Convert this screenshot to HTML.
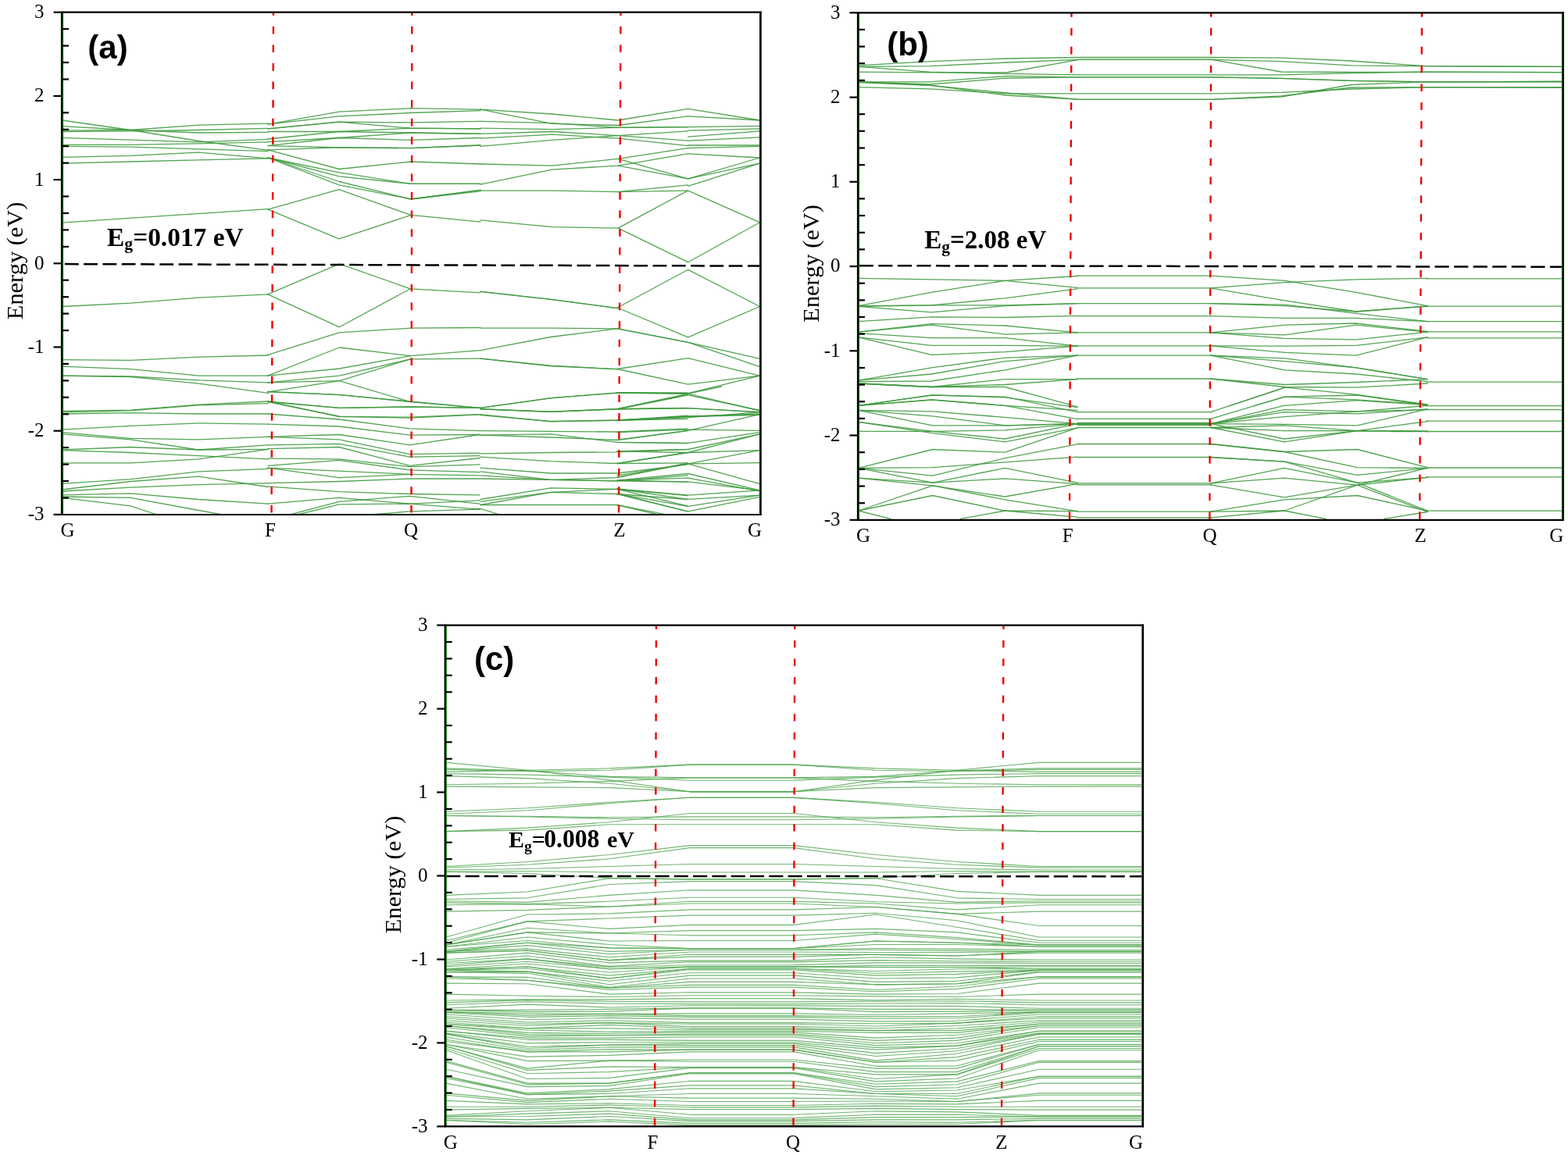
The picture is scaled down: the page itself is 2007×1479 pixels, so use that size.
<!DOCTYPE html>
<html><head><meta charset="utf-8"><style>
body{margin:0;background:#fff}
svg{display:block}
.b{fill:none;stroke:#3f9a3f;stroke-width:1.3;stroke-opacity:.9;stroke-linejoin:round;stroke-linecap:round}
.bc{fill:none;stroke:#4ca34c;stroke-width:1.15;stroke-opacity:.8;stroke-linejoin:round;stroke-linecap:round}
.r{stroke:#ee0000;stroke-width:2.4;stroke-dasharray:9.8 13.78}
.f{stroke:#000;stroke-width:2.5;stroke-dasharray:17.8 6.48}
.g{stroke:#138a13;stroke-width:1.2}
.k{stroke:#000;stroke-width:2.2}
.t{font-family:"Liberation Serif",serif;font-size:25px;fill:#000}
.t2{font-family:"Liberation Serif",serif;font-size:30.4px;fill:#000}
.pl{font-family:"Liberation Sans",sans-serif;font-weight:bold;font-size:42px;fill:#000}
.eg{font-family:"Liberation Serif",serif;font-weight:bold;font-size:34px;fill:#000}
.sub{font-size:22px}
</style></head>
<body><svg width="2007" height="1479" viewBox="0 0 2007 1479">
<rect width="2007" height="1479" fill="#fff"/>
<clipPath id="ca"><rect x="79" y="15.7" width="894.7" height="643.3"/></clipPath>
<g clip-path="url(#ca)">
<polyline class="b" points="79.2,154.0 167.1,166.5 254.3,180.5 343.0,192.3"/>
<polyline class="b" points="79.2,161.6 167.1,166.5 254.3,170.0 343.0,169.3"/>
<polyline class="b" points="79.2,167.2 167.1,166.5 254.3,160.2 343.0,158.1"/>
<polyline class="b" points="79.2,168.6 167.1,167.9 254.3,166.5 343.0,164.4"/>
<polyline class="b" points="79.2,176.3 167.1,179.1 254.3,181.9 343.0,178.4"/>
<polyline class="b" points="79.2,185.3 167.1,185.3 254.3,183.9 343.0,181.9"/>
<polyline class="b" points="79.2,187.4 167.1,188.1 254.3,190.9 343.0,193.7"/>
<polyline class="b" points="79.2,201.4 167.1,199.3 254.3,195.1 343.0,202.8"/>
<polyline class="b" points="79.2,209.1 167.1,207.0 254.3,204.9 343.0,202.8"/>
<polyline class="b" points="79.2,285.1 343.0,267.7"/>
<polyline class="b" points="343.0,159.1 434.0,143.1 526.0,138.7 615.0,140.2"/>
<polyline class="b" points="343.0,159.1 434.0,148.9 526.0,144.5 615.0,141.6"/>
<polyline class="b" points="343.0,164.9 434.0,156.2 526.0,156.9 615.0,155.4"/>
<polyline class="b" points="343.0,164.9 434.0,156.2 526.0,164.2 615.0,164.9"/>
<polyline class="b" points="343.0,168.5 434.0,168.5 526.0,164.2 615.0,164.9"/>
<polyline class="b" points="343.0,178.0 434.0,168.5 526.0,170.0 615.0,171.4"/>
<polyline class="b" points="343.0,181.6 434.0,176.5 526.0,170.0 615.0,171.4"/>
<polyline class="b" points="343.0,186.7 434.0,176.5 526.0,179.4 615.0,176.5"/>
<polyline class="b" points="343.0,186.7 434.0,188.9 526.0,189.6 615.0,186.0"/>
<polyline class="b" points="343.0,191.8 434.0,188.9 526.0,189.6 615.0,186.0"/>
<polyline class="b" points="343.0,191.8 434.0,216.5 526.0,207.0 615.0,210.0"/>
<polyline class="b" points="343.0,202.0 434.0,220.9 526.0,235.4 615.0,235.4"/>
<polyline class="b" points="343.0,202.0 434.0,225.9 526.0,235.4 615.0,235.4"/>
<polyline class="b" points="343.0,202.0 434.0,232.5 526.0,255.0 615.0,243.4"/>
<polyline class="b" points="343.0,202.0 434.0,236.8 526.0,255.0 615.0,243.4"/>
<polyline class="b" points="343.0,268.1 434.0,242.7 526.0,275.4"/>
<polyline class="b" points="343.0,268.1 434.0,305.9 526.0,275.4 615.0,284.1"/>
<polyline class="b" points="526.0,255.0 615.0,244.8"/>
<polyline class="b" points="615.0,140.2 706.8,146.0 791.1,154.0 880.5,139.4"/>
<polyline class="b" points="615.0,140.2 706.8,158.3 791.1,160.5 880.5,148.9"/>
<polyline class="b" points="615.0,155.4 706.8,157.6 791.1,163.4 880.5,162.7"/>
<polyline class="b" points="615.0,164.2 706.8,165.6 791.1,163.4 880.5,162.7"/>
<polyline class="b" points="615.0,171.4 706.8,168.5 791.1,173.6 880.5,180.2"/>
<polyline class="b" points="615.0,177.2 706.8,172.2 791.1,177.2 880.5,186.7"/>
<polyline class="b" points="615.0,187.4 706.8,179.4 791.1,173.6 880.5,167.8"/>
<polyline class="b" points="615.0,210.0 706.8,212.1 791.1,203.4 880.5,189.6"/>
<polyline class="b" points="615.0,236.1 706.8,217.2 791.1,212.1 880.5,196.9"/>
<polyline class="b" points="791.1,212.1 880.5,228.9"/>
<polyline class="b" points="791.1,203.4 880.5,228.9"/>
<polyline class="b" points="615.0,244.1 706.8,244.1 791.1,245.6 880.5,236.8"/>
<polyline class="b" points="791.1,245.6 880.5,244.1"/>
<polyline class="b" points="615.0,281.9 706.8,290.6 791.1,292.1 880.5,244.1"/>
<polyline class="b" points="791.1,292.1 880.5,335.7"/>
<polyline class="b" points="880.7,139.4 972.6,154.0"/>
<polyline class="b" points="880.7,148.9 972.6,154.0"/>
<polyline class="b" points="880.7,162.7 972.6,161.3"/>
<polyline class="b" points="880.7,167.1 972.6,164.9"/>
<polyline class="b" points="880.7,175.1 972.6,167.8"/>
<polyline class="b" points="880.7,180.2 972.6,175.8"/>
<polyline class="b" points="880.7,186.0 972.6,186.0"/>
<polyline class="b" points="880.7,189.6 972.6,187.4"/>
<polyline class="b" points="880.7,196.9 972.6,202.0"/>
<polyline class="b" points="880.7,228.9 972.6,202.0"/>
<polyline class="b" points="880.7,228.9 972.6,209.2"/>
<polyline class="b" points="880.7,238.3 972.6,209.2"/>
<polyline class="b" points="880.7,244.1 972.6,284.8"/>
<polyline class="b" points="880.7,335.7 972.6,284.8"/>
<polyline class="b" points="79.0,392.5 167.3,388.2 254.6,381.1 343.4,376.9"/>
<polyline class="b" points="79.0,460.7 167.3,461.4 254.6,457.1 343.4,455.0"/>
<polyline class="b" points="79.0,469.2 167.3,472.7 254.6,481.2 343.4,481.2"/>
<polyline class="b" points="79.0,481.2 167.3,482.0 254.6,486.9 343.4,489.8"/>
<polyline class="b" points="79.0,481.2 167.3,482.7 254.6,491.2 343.4,503.3"/>
<polyline class="b" points="79.2,526.5 167.1,525.1 254.3,518.1 343.0,514.0"/>
<polyline class="b" points="79.2,527.9 167.1,525.8 254.3,518.8 343.0,516.7"/>
<polyline class="b" points="79.2,530.0 167.1,528.6 254.3,530.0 343.0,530.0"/>
<polyline class="b" points="79.2,550.2 167.1,545.3 254.3,541.9 343.0,543.2"/>
<polyline class="b" points="79.2,553.7 167.1,561.4 254.3,562.8 343.0,559.3"/>
<polyline class="b" points="79.2,555.8 167.1,562.8 254.3,576.0 343.0,569.8"/>
<polyline class="b" points="79.2,576.0 167.1,572.5 254.3,576.0 343.0,575.3"/>
<polyline class="b" points="79.2,576.7 167.1,579.5 254.3,583.7 343.0,587.9"/>
<polyline class="b" points="79.2,592.8 167.1,592.8 254.3,587.9 343.0,575.3"/>
<polyline class="b" points="79.2,619.3 167.1,613.7 254.3,603.9 343.0,600.4"/>
<polyline class="b" points="79.2,627.0 167.1,616.5 254.3,610.2 343.0,623.5"/>
<polyline class="b" points="79.2,629.0 167.1,624.2 254.3,620.7 343.0,618.6"/>
<polyline class="b" points="79.2,633.9 167.1,631.8 254.3,639.5 343.0,645.1"/>
<polyline class="b" points="79.2,637.4 167.1,647.9 200.6,659.0"/>
<polyline class="b" points="79.2,636.0 167.1,637.4 254.3,653.5 284.3,659.0"/>
<polyline class="b" points="342.8,376.9 434.4,337.8 525.3,369.8 614.7,374.8"/>
<polyline class="b" points="342.8,376.9 434.4,418.8 525.3,369.8"/>
<polyline class="b" points="342.8,454.3 434.4,425.9 525.3,420.2 614.7,419.5"/>
<polyline class="b" points="342.8,481.2 434.4,445.0 525.3,455.7 614.7,448.6"/>
<polyline class="b" points="342.8,481.2 434.4,472.0 525.3,455.7"/>
<polyline class="b" points="342.8,489.8 434.4,481.2 525.3,459.9 614.7,459.2"/>
<polyline class="b" points="342.8,489.8 434.4,487.6 525.3,459.9"/>
<polyline class="b" points="342.8,501.8 434.4,487.6 525.3,514.6 614.7,522.4"/>
<polyline class="b" points="342.8,501.8 434.4,505.4 525.3,514.6"/>
<polyline class="b" points="342.8,514.6 434.4,522.4 525.3,521.0 614.7,522.4"/>
<polyline class="b" points="342.8,514.6 434.4,533.1 525.3,535.2 614.7,530.9"/>
<polyline class="b" points="342.7,501.4 434.1,505.6 524.7,514.0 614.0,522.3"/>
<polyline class="b" points="342.7,514.0 434.1,522.3 524.7,520.9 614.0,522.3"/>
<polyline class="b" points="342.7,514.0 434.1,533.5 524.7,534.2 614.0,530.7"/>
<polyline class="b" points="342.7,530.0 434.1,537.0 524.7,548.8 614.0,551.6"/>
<polyline class="b" points="342.7,543.2 434.1,546.0 524.7,557.2 614.0,556.5"/>
<polyline class="b" points="342.7,559.3 434.1,556.5 524.7,569.8 614.0,556.5"/>
<polyline class="b" points="342.7,559.3 434.1,562.8 524.7,581.6 614.0,580.2"/>
<polyline class="b" points="342.7,569.8 434.1,568.4 524.7,585.1 614.0,583.7"/>
<polyline class="b" points="342.7,574.6 434.1,572.5 524.7,596.3 614.0,586.5"/>
<polyline class="b" points="342.7,587.2 434.1,587.9 524.7,597.7 614.0,594.9"/>
<polyline class="b" points="342.7,596.3 434.1,589.3 524.7,601.8 614.0,604.6"/>
<polyline class="b" points="342.7,599.1 434.1,603.2 524.7,607.4 614.0,608.8"/>
<polyline class="b" points="342.7,599.1 434.1,611.6 524.7,607.4"/>
<polyline class="b" points="342.7,618.6 434.1,616.5 524.7,613.0 614.0,613.0"/>
<polyline class="b" points="342.7,622.8 434.1,629.7 524.7,632.5 614.0,633.9"/>
<polyline class="b" points="342.7,645.1 434.1,637.4 524.7,645.1 614.0,640.9"/>
<polyline class="b" points="371.3,659.0 434.1,642.3 524.7,635.3 614.0,645.1"/>
<polyline class="b" points="381.0,659.0 434.1,645.8 524.7,645.1 614.0,652.1"/>
<polyline class="b" points="474.5,659.0 524.7,654.9 614.0,652.1"/>
<polyline class="b" points="614.9,373.3 705.0,383.3 789.6,394.6"/>
<polyline class="b" points="614.9,373.3 705.0,383.3 789.6,394.6"/>
<polyline class="b" points="614.9,420.2 705.0,420.2 789.6,420.9"/>
<polyline class="b" points="614.9,448.6 705.0,431.5 789.6,420.9"/>
<polyline class="b" points="614.9,459.2 705.0,468.5 789.6,472.7"/>
<polyline class="b" points="614.9,459.2 705.0,468.5 789.6,472.7"/>
<polyline class="b" points="614.9,522.4 705.0,509.6 789.6,503.3"/>
<polyline class="b" points="614.9,523.8 705.0,527.4 789.6,523.8"/>
<polyline class="b" points="614.9,523.8 705.0,527.4 789.6,523.8"/>
<polyline class="b" points="614.9,531.6 705.0,539.5 789.6,538.0"/>
<polyline class="b" points="790.2,394.0 880.7,345.3 972.6,392.5"/>
<polyline class="b" points="790.2,394.0 880.7,431.8 972.6,392.5"/>
<polyline class="b" points="790.2,420.9 880.7,438.3 972.6,459.4"/>
<polyline class="b" points="790.2,420.9 880.7,438.3 972.6,469.6"/>
<polyline class="b" points="790.2,472.5 880.7,458.7 972.6,481.2"/>
<polyline class="b" points="790.2,472.5 880.7,492.1 972.6,481.2"/>
<polyline class="b" points="790.2,503.0 880.7,503.7 972.6,481.2"/>
<polyline class="b" points="790.2,524.1 880.7,505.9 972.6,525.5"/>
<polyline class="b" points="790.2,524.1 880.7,522.6 972.6,527.7"/>
<polyline class="b" points="790.2,537.9 880.7,533.5 972.6,529.9"/>
<polyline class="b" points="790.2,537.9 880.7,533.5 972.6,531.3"/>
<polyline class="b" points="615.0,522.3 705.0,509.8 790.0,502.8 880.0,502.8"/>
<polyline class="b" points="615.0,523.7 705.0,527.2 790.0,523.7 880.0,505.6"/>
<polyline class="b" points="790.0,523.7 880.0,522.3"/>
<polyline class="b" points="615.0,530.7 705.0,539.8 790.0,538.4 880.0,532.1"/>
<polyline class="b" points="790.0,538.4 880.0,536.3"/>
<polyline class="b" points="615.0,551.6 705.0,552.3 790.0,553.0 880.0,548.8"/>
<polyline class="b" points="615.0,557.2 705.0,560.0 790.0,563.5 880.0,551.6"/>
<polyline class="b" points="615.0,557.2 705.0,555.8 790.0,566.3 880.0,567.7"/>
<polyline class="b" points="615.0,580.9 705.0,579.5 790.0,578.8 880.0,575.3"/>
<polyline class="b" points="615.0,585.1 705.0,590.7 790.0,593.5 880.0,579.5"/>
<polyline class="b" points="790.0,593.5 880.0,592.8"/>
<polyline class="b" points="615.0,599.1 705.0,606.0 790.0,606.0 880.0,594.9"/>
<polyline class="b" points="615.0,603.9 705.0,614.4 790.0,611.6 880.0,592.8"/>
<polyline class="b" points="615.0,608.8 705.0,614.4 790.0,615.8 880.0,608.8"/>
<polyline class="b" points="615.0,613.0 705.0,614.4 790.0,615.8 880.0,617.2"/>
<polyline class="b" points="615.0,639.5 705.0,624.9 790.0,626.3 880.0,634.6"/>
<polyline class="b" points="615.0,642.3 705.0,630.4 790.0,632.5 880.0,639.5"/>
<polyline class="b" points="615.0,646.5 705.0,630.4 790.0,626.3 880.0,647.9"/>
<polyline class="b" points="790.0,632.5 880.0,654.9"/>
<polyline class="b" points="615.0,646.5 705.0,646.5 790.0,646.5 842.2,659.0"/>
<polyline class="b" points="605.0,652.1 615.0,651.4 639.9,659.0"/>
<polyline class="b" points="789.8,503.0 880.6,504.2 923.7,495.0"/>
<polyline class="b" points="789.8,503.0 880.6,504.2 972.5,526.0"/>
<polyline class="b" points="789.8,523.7 880.6,504.2"/>
<polyline class="b" points="789.8,523.7 880.6,522.6 972.5,527.8"/>
<polyline class="b" points="789.8,538.7 880.6,532.9 972.5,530.6"/>
<polyline class="b" points="789.8,538.7 880.6,534.7 972.5,527.8"/>
<polyline class="b" points="789.8,553.6 880.6,550.2 972.5,551.3"/>
<polyline class="b" points="789.8,563.4 880.6,551.3 972.5,530.6"/>
<polyline class="b" points="789.8,566.3 880.6,567.4 972.5,553.6"/>
<polyline class="b" points="789.8,577.8 880.6,575.5 972.5,555.9"/>
<polyline class="b" points="789.8,593.3 880.6,579.5 972.5,555.9"/>
<polyline class="b" points="789.8,577.8 880.6,579.5 972.5,576.6"/>
<polyline class="b" points="789.8,608.8 880.6,593.9 972.5,576.6"/>
<polyline class="b" points="789.8,611.1 880.6,593.9 972.5,592.7"/>
<polyline class="b" points="880.6,593.9 972.5,619.7"/>
<polyline class="b" points="789.8,615.1 880.6,606.5 972.5,627.8"/>
<polyline class="b" points="789.8,615.1 880.6,612.2 972.5,628.9"/>
<polyline class="b" points="789.8,615.1 880.6,616.8 972.5,627.8"/>
<polyline class="b" points="789.8,626.0 880.6,634.1 972.5,627.8"/>
<polyline class="b" points="789.8,626.0 880.6,639.3 972.5,634.1"/>
<polyline class="b" points="789.8,632.4 880.6,648.4 972.5,634.1"/>
<polyline class="b" points="789.8,632.4 880.6,654.8 972.5,636.4"/>
<polyline class="b" points="789.8,646.7 849.0,658.2"/>
<line class="r" style="stroke-dasharray:9.7 13.88" x1="350" y1="10.22" x2="347.5" y2="659"/>
<line class="r" style="stroke-dasharray:9.7 13.88" x1="527.3" y1="10.22" x2="526.5" y2="659"/>
<line class="r" style="stroke-dasharray:9.7 13.88" x1="794.5" y1="10.22" x2="792" y2="659"/>
<line class="f" style="stroke-dasharray:17.8 6.48" x1="82.9" y1="338.1" x2="973.7" y2="340.6"/>
</g>
<line class="g" x1="80.6" y1="15.7" x2="80.6" y2="659"/>
<line class="g" x1="972.4000000000001" y1="15.7" x2="972.4000000000001" y2="659"/>
<line class="k" x1="79" y1="15.7" x2="974.7" y2="15.7"/>
<line class="k" x1="79" y1="659" x2="974.7" y2="659"/>
<line class="k" x1="79" y1="14.7" x2="79" y2="660"/>
<line class="k" x1="973.7" y1="14.7" x2="973.7" y2="660"/>
<line class="k" x1="68.5" y1="658.9" x2="79" y2="658.9"/>
<text class="t" x="56.5" y="666.3" text-anchor="end">-3</text>
<line class="k" x1="79" y1="637.5" x2="88" y2="637.5"/>
<line class="k" x1="79" y1="616.0" x2="88" y2="616.0"/>
<line class="k" x1="79" y1="594.6" x2="88" y2="594.6"/>
<line class="k" x1="79" y1="573.1" x2="88" y2="573.1"/>
<line class="k" x1="68.5" y1="551.7" x2="79" y2="551.7"/>
<text class="t" x="56.5" y="559.1" text-anchor="end">-2</text>
<line class="k" x1="79" y1="530.3" x2="88" y2="530.3"/>
<line class="k" x1="79" y1="508.8" x2="88" y2="508.8"/>
<line class="k" x1="79" y1="487.4" x2="88" y2="487.4"/>
<line class="k" x1="79" y1="465.9" x2="88" y2="465.9"/>
<line class="k" x1="68.5" y1="444.5" x2="79" y2="444.5"/>
<text class="t" x="56.5" y="451.9" text-anchor="end">-1</text>
<line class="k" x1="79" y1="423.1" x2="88" y2="423.1"/>
<line class="k" x1="79" y1="401.6" x2="88" y2="401.6"/>
<line class="k" x1="79" y1="380.2" x2="88" y2="380.2"/>
<line class="k" x1="79" y1="358.7" x2="88" y2="358.7"/>
<line class="k" x1="68.5" y1="337.3" x2="79" y2="337.3"/>
<text class="t" x="56.5" y="344.7" text-anchor="end">0</text>
<line class="k" x1="79" y1="315.9" x2="88" y2="315.9"/>
<line class="k" x1="79" y1="294.4" x2="88" y2="294.4"/>
<line class="k" x1="79" y1="273.0" x2="88" y2="273.0"/>
<line class="k" x1="79" y1="251.5" x2="88" y2="251.5"/>
<line class="k" x1="68.5" y1="230.1" x2="79" y2="230.1"/>
<text class="t" x="56.5" y="237.5" text-anchor="end">1</text>
<line class="k" x1="79" y1="208.7" x2="88" y2="208.7"/>
<line class="k" x1="79" y1="187.2" x2="88" y2="187.2"/>
<line class="k" x1="79" y1="165.8" x2="88" y2="165.8"/>
<line class="k" x1="79" y1="144.3" x2="88" y2="144.3"/>
<line class="k" x1="68.5" y1="122.9" x2="79" y2="122.9"/>
<text class="t" x="56.5" y="130.3" text-anchor="end">2</text>
<line class="k" x1="79" y1="101.5" x2="88" y2="101.5"/>
<line class="k" x1="79" y1="80.0" x2="88" y2="80.0"/>
<line class="k" x1="79" y1="58.6" x2="88" y2="58.6"/>
<line class="k" x1="79" y1="37.1" x2="88" y2="37.1"/>
<line class="k" x1="68.5" y1="15.7" x2="79" y2="15.7"/>
<text class="t" x="56.5" y="23.1" text-anchor="end">3</text>
<text class="t" x="86.5" y="686.6" text-anchor="middle">G</text>
<text class="t" x="346" y="686.6" text-anchor="middle">F</text>
<text class="t" x="526" y="686.6" text-anchor="middle">Q</text>
<text class="t" x="793" y="686.6" text-anchor="middle">Z</text>
<text class="t" x="966" y="686.6" text-anchor="middle">G</text>
<text class="t2" transform="translate(28.7,333.9) rotate(-90)" text-anchor="middle">Energy (eV)</text>
<text class="pl" x="112.3" y="74.6">(a)</text>
<text class="eg" style="font-size:33.4px" x="137" y="314.7">E<tspan style="font-size:21.7px" dy="4.5">g</tspan><tspan dy="-4.5">=0.017 eV</tspan></text><clipPath id="cb"><rect x="1098" y="16.3" width="902.8" height="649.5"/></clipPath>
<g clip-path="url(#cb)">
<polyline class="b" points="1098.7,356.4 1192.2,357.9 1286.3,359.4 1379.0,368.4"/>
<polyline class="b" points="1098.7,391.6 1192.2,374.4 1286.3,359.4 1379.0,353.5"/>
<polyline class="b" points="1098.7,391.6 1192.2,390.8 1286.3,381.9 1379.0,369.9"/>
<polyline class="b" points="1098.7,392.3 1192.2,390.8 1286.3,390.8 1379.0,388.6"/>
<polyline class="b" points="1098.7,392.3 1192.2,399.8 1286.3,391.6 1379.0,388.6"/>
<polyline class="b" points="1098.7,411.7 1192.2,405.8 1286.3,406.5 1379.0,404.3"/>
<polyline class="b" points="1098.7,425.2 1192.2,414.7 1286.3,417.0 1379.0,425.9"/>
<polyline class="b" points="1098.7,425.2 1192.2,416.2 1286.3,428.2 1379.0,425.9"/>
<polyline class="b" points="1098.7,426.7 1192.2,432.7 1286.3,432.7 1379.0,443.1"/>
<polyline class="b" points="1098.7,431.9 1192.2,442.4 1286.3,442.4 1379.0,443.1"/>
<polyline class="b" points="1098.7,431.9 1192.2,454.3 1286.3,450.6 1379.0,443.1"/>
<polyline class="b" points="1098.7,487.2 1192.2,470.8 1286.3,458.1 1379.0,455.1"/>
<polyline class="b" points="1098.7,487.2 1192.2,479.0 1286.3,462.6 1379.0,455.1"/>
<polyline class="b" points="1098.7,488.7 1192.2,488.0 1286.3,473.8 1379.0,455.1"/>
<polyline class="b" points="1098.7,491.0 1192.2,495.5 1286.3,485.7 1379.0,485.7"/>
<polyline class="b" points="1098.7,491.0 1192.2,495.5 1286.3,492.5 1379.0,485.7"/>
<polyline class="b" points="1098.7,491.0 1192.2,495.5 1286.3,495.5 1379.0,520.9"/>
<polyline class="b" points="1098.7,519.4 1192.2,505.9 1286.3,508.9 1379.0,521.6"/>
<polyline class="b" points="1098.7,519.4 1192.2,511.9 1286.3,519.4 1379.0,525.4"/>
<polyline class="b" points="1098.7,519.4 1193.7,512.0 1286.3,519.4 1379.0,536.6"/>
<polyline class="b" points="1098.7,519.4 1193.7,506.0 1286.3,508.2 1379.0,527.7"/>
<polyline class="b" points="1098.7,525.4 1193.7,526.9 1286.3,534.4 1379.0,542.6"/>
<polyline class="b" points="1098.7,525.4 1193.7,532.9 1286.3,544.8 1379.0,542.6"/>
<polyline class="b" points="1098.7,525.4 1193.7,544.8 1286.3,544.8 1379.0,542.6"/>
<polyline class="b" points="1098.7,540.4 1193.7,552.3 1286.3,562.0 1379.0,542.6"/>
<polyline class="b" points="1098.7,540.4 1193.7,554.6 1286.3,565.8 1379.0,547.8"/>
<polyline class="b" points="1098.7,552.3 1193.7,552.3 1286.3,550.8 1379.0,542.6"/>
<polyline class="b" points="1098.7,599.4 1193.7,575.5 1286.3,579.2 1379.0,547.8"/>
<polyline class="b" points="1098.7,599.4 1193.7,598.7 1286.3,591.9 1379.0,585.2"/>
<polyline class="b" points="1098.7,599.4 1193.7,609.1 1286.3,586.7 1379.0,568.8"/>
<polyline class="b" points="1098.7,612.1 1193.7,618.1 1286.3,599.4 1379.0,618.1"/>
<polyline class="b" points="1098.7,599.4 1193.7,618.1 1286.3,612.9 1379.0,619.6"/>
<polyline class="b" points="1098.7,612.1 1193.7,621.8 1286.3,636.0 1379.0,619.6"/>
<polyline class="b" points="1098.7,654.0 1193.7,621.8 1286.3,639.8 1379.0,654.7"/>
<polyline class="b" points="1098.7,654.0 1193.7,634.5 1286.3,654.0 1379.0,654.7"/>
<polyline class="b" points="1098.7,654.0 1139.8,664.4"/>
<polyline class="b" points="1229.5,664.4 1286.3,654.0 1379.0,662.2"/>
<polyline class="b" points="1378.5,353.2 1550.4,353.2"/>
<polyline class="b" points="1378.5,368.8 1550.4,368.8"/>
<polyline class="b" points="1378.5,388.6 1550.4,388.6"/>
<polyline class="b" points="1378.5,404.6 1550.4,404.6"/>
<polyline class="b" points="1378.5,425.9 1550.4,425.9"/>
<polyline class="b" points="1378.5,442.8 1550.4,442.8"/>
<polyline class="b" points="1378.5,455.1 1550.4,455.1"/>
<polyline class="b" points="1378.5,485.0 1550.4,485.0"/>
<polyline class="b" points="1549.3,353.2 1644.6,359.4 1735.8,374.4 1827.0,391.6"/>
<polyline class="b" points="1549.3,368.8 1644.6,361.7 1735.8,357.9 1827.0,356.4"/>
<polyline class="b" points="1549.3,368.8 1644.6,384.8 1735.8,399.0 1827.0,392.3"/>
<polyline class="b" points="1549.3,388.6 1644.6,390.1 1735.8,401.3 1827.0,411.7"/>
<polyline class="b" points="1549.3,388.6 1644.6,391.6 1735.8,399.0 1827.0,391.6"/>
<polyline class="b" points="1549.3,404.6 1644.6,407.3 1735.8,407.3 1827.0,411.7"/>
<polyline class="b" points="1549.3,425.9 1644.6,416.2 1735.8,414.0 1827.0,424.5"/>
<polyline class="b" points="1549.3,425.9 1644.6,428.9 1735.8,416.2 1827.0,425.2"/>
<polyline class="b" points="1549.3,425.9 1644.6,433.4 1735.8,434.9 1827.0,425.2"/>
<polyline class="b" points="1549.3,442.8 1644.6,443.1 1735.8,442.4 1827.0,431.9"/>
<polyline class="b" points="1549.3,442.8 1644.6,451.4 1735.8,455.1 1827.0,431.9"/>
<polyline class="b" points="1549.3,455.1 1644.6,458.8 1735.8,470.8 1827.0,485.7"/>
<polyline class="b" points="1549.3,455.1 1644.6,462.6 1735.8,470.8 1827.0,485.7"/>
<polyline class="b" points="1549.3,455.1 1644.6,473.8 1735.8,479.0 1827.0,488.7"/>
<polyline class="b" points="1549.3,485.0 1644.6,492.5 1735.8,489.5 1827.0,485.7"/>
<polyline class="b" points="1549.3,485.0 1644.6,495.5 1735.8,496.2 1827.0,491.0"/>
<polyline class="b" points="1572.9,520.0 1644.6,496.2 1735.8,505.2 1827.0,517.9"/>
<polyline class="b" points="1604.3,520.0 1644.6,508.2 1735.8,511.9 1827.0,517.9"/>
<polyline class="b" points="1379.1,527.7 1550.7,527.7"/>
<polyline class="b" points="1379.1,536.3 1550.7,536.3"/>
<polyline class="b" points="1379.1,541.3 1550.7,541.3"/>
<polyline class="b" points="1379.1,542.3 1550.7,542.3"/>
<polyline class="b" points="1379.1,543.3 1550.7,543.3"/>
<polyline class="b" points="1379.1,544.4 1550.7,544.4"/>
<polyline class="b" points="1379.1,547.5 1550.7,547.5"/>
<polyline class="b" points="1379.1,568.5 1550.7,568.5"/>
<polyline class="b" points="1379.1,585.5 1550.7,585.5"/>
<polyline class="b" points="1379.1,618.8 1550.7,618.8"/>
<polyline class="b" points="1379.1,620.8 1550.7,620.8"/>
<polyline class="b" points="1379.1,655.2 1550.7,655.2"/>
<polyline class="b" points="1379.1,662.9 1550.7,662.9"/>
<polyline class="b" points="1549.7,527.7 1643.9,496.3"/>
<polyline class="b" points="1549.7,536.3 1643.9,508.2 1737.3,506.0 1827.0,518.7"/>
<polyline class="b" points="1549.7,542.6 1643.9,519.4 1737.3,512.7 1827.0,518.7"/>
<polyline class="b" points="1549.7,542.6 1643.9,524.7 1737.3,526.9 1827.0,519.4"/>
<polyline class="b" points="1549.7,542.6 1643.9,527.7 1737.3,529.9 1827.0,523.9"/>
<polyline class="b" points="1549.7,542.6 1643.9,533.6 1737.3,526.9 1827.0,524.7"/>
<polyline class="b" points="1549.7,542.6 1643.9,543.3 1737.3,544.8 1827.0,523.9"/>
<polyline class="b" points="1549.7,547.5 1643.9,544.8 1737.3,551.6 1827.0,539.6"/>
<polyline class="b" points="1549.7,547.5 1643.9,551.6 1737.3,551.6 1827.0,552.3"/>
<polyline class="b" points="1549.7,542.6 1643.9,562.0 1737.3,551.6 1827.0,552.3"/>
<polyline class="b" points="1549.7,547.5 1643.9,565.8 1737.3,551.6 1827.0,552.3"/>
<polyline class="b" points="1549.7,568.5 1643.9,578.5 1737.3,575.5 1827.0,598.7"/>
<polyline class="b" points="1549.7,568.5 1643.9,578.5 1737.3,598.7 1827.0,599.4"/>
<polyline class="b" points="1549.7,585.5 1643.9,591.2 1737.3,608.4 1827.0,599.4"/>
<polyline class="b" points="1549.7,585.5 1643.9,591.2 1737.3,618.1 1827.0,654.0"/>
<polyline class="b" points="1549.7,618.8 1643.9,599.4 1737.3,618.1 1827.0,611.4"/>
<polyline class="b" points="1549.7,618.8 1643.9,612.1 1737.3,621.1 1827.0,655.5"/>
<polyline class="b" points="1549.7,620.8 1643.9,636.8 1737.3,621.1 1827.0,599.4"/>
<polyline class="b" points="1549.7,655.2 1643.9,639.8 1737.3,634.5 1827.0,654.0"/>
<polyline class="b" points="1549.7,655.2 1643.9,654.0 1697.0,664.4"/>
<polyline class="b" points="1549.7,662.9 1643.9,654.0 1737.3,621.1 1827.0,611.4"/>
<polyline class="b" points="1771.7,664.4 1827.0,655.5"/>
<polyline class="b" points="1826.0,356.9 2000.7,356.9"/>
<polyline class="b" points="1826.0,392.1 2000.7,392.1"/>
<polyline class="b" points="1826.0,411.6 2000.7,411.6"/>
<polyline class="b" points="1826.0,424.9 2000.7,424.9"/>
<polyline class="b" points="1826.0,432.8 2000.7,432.8"/>
<polyline class="b" points="1826.0,489.1 2000.7,489.1"/>
<polyline class="b" points="1826.0,519.7 2000.7,519.7"/>
<polyline class="b" points="1826.0,524.7 2000.7,524.7"/>
<polyline class="b" points="1826.0,539.2 2000.7,539.2"/>
<polyline class="b" points="1826.0,552.5 2000.7,552.5"/>
<polyline class="b" points="1826.0,599.0 2000.7,599.0"/>
<polyline class="b" points="1826.0,610.9 2000.7,610.9"/>
<polyline class="b" points="1826.0,654.1 2000.7,654.1"/>
<polyline class="b" points="1780.0,552.5 1828.3,552.5"/>
<polyline class="b" points="1099.0,83.9 1190.0,78.7 1288.0,75.0 1381.0,73.5 1551.0,73.5 1640.0,74.2 1730.0,78.0 1826.0,84.7 2000.0,85.4"/>
<polyline class="b" points="1099.0,85.4 1190.0,84.7 1288.0,80.0 1381.0,76.4 1551.0,76.4 1640.0,78.7 1730.0,83.9 1826.0,84.7 2000.0,85.4"/>
<polyline class="b" points="1099.0,92.1 1190.0,92.9 1288.0,93.0 1381.0,76.4 1551.0,76.4 1640.0,92.0 1730.0,92.5 1826.0,92.1 2000.0,92.6"/>
<polyline class="b" points="1099.0,85.4 1190.0,92.1 1288.0,94.4 1381.0,95.9 1551.0,95.9 1640.0,95.9 1730.0,93.6 1826.0,92.1 2000.0,92.6"/>
<polyline class="b" points="1099.0,104.8 1190.0,104.8 1288.0,97.4 1381.0,98.9 1551.0,98.9 1640.0,100.4 1730.0,103.4 1826.0,104.8 2000.0,104.5"/>
<polyline class="b" points="1099.0,104.8 1190.0,108.0 1288.0,100.0 1381.0,98.9 1551.0,98.9 1640.0,100.4 1730.0,103.4 1826.0,104.8 2000.0,104.5"/>
<polyline class="b" points="1099.0,105.6 1190.0,109.3 1288.0,119.0 1381.0,127.3 1551.0,127.3 1640.0,122.8 1730.0,112.0 1826.0,111.6 2000.0,112.0"/>
<polyline class="b" points="1099.0,111.6 1190.0,113.8 1288.0,119.8 1381.0,119.8 1551.0,119.8 1640.0,118.3 1730.0,114.0 1826.0,111.6 2000.0,112.0"/>
<polyline class="b" points="1099.0,104.8 1190.0,109.0 1288.0,122.0 1381.0,127.3 1551.0,127.3 1640.0,124.0 1730.0,108.5 1826.0,104.8 2000.0,104.5"/>
<line class="r" style="stroke-dasharray:9.6 14.22" x1="1371.5" y1="12.18" x2="1369" y2="665.8"/>
<line class="r" style="stroke-dasharray:9.6 14.22" x1="1550.2" y1="12.18" x2="1548.3" y2="665.8"/>
<line class="r" style="stroke-dasharray:9.6 14.22" x1="1820" y1="12.18" x2="1817.2" y2="665.8"/>
<line class="f" style="stroke-dasharray:18.2 6.36" x1="1099.7" y1="340.2" x2="2000.8" y2="341.7"/>
</g>
<line class="g" x1="1099.6" y1="16.3" x2="1099.6" y2="665.8"/>
<line class="g" x1="1999.5" y1="16.3" x2="1999.5" y2="665.8"/>
<line class="k" x1="1098" y1="16.3" x2="2001.8" y2="16.3"/>
<line class="k" x1="1098" y1="665.8" x2="2001.8" y2="665.8"/>
<line class="k" x1="1098" y1="15.3" x2="1098" y2="666.8"/>
<line class="k" x1="2000.8" y1="15.3" x2="2000.8" y2="666.8"/>
<line class="k" x1="1087.5" y1="665.8" x2="1098" y2="665.8"/>
<text class="t" x="1075.5" y="673.2" text-anchor="end">-3</text>
<line class="k" x1="1098" y1="644.2" x2="1107" y2="644.2"/>
<line class="k" x1="1098" y1="622.5" x2="1107" y2="622.5"/>
<line class="k" x1="1098" y1="600.9" x2="1107" y2="600.9"/>
<line class="k" x1="1098" y1="579.2" x2="1107" y2="579.2"/>
<line class="k" x1="1087.5" y1="557.5" x2="1098" y2="557.5"/>
<text class="t" x="1075.5" y="564.9" text-anchor="end">-2</text>
<line class="k" x1="1098" y1="535.9" x2="1107" y2="535.9"/>
<line class="k" x1="1098" y1="514.2" x2="1107" y2="514.2"/>
<line class="k" x1="1098" y1="492.6" x2="1107" y2="492.6"/>
<line class="k" x1="1098" y1="471.0" x2="1107" y2="471.0"/>
<line class="k" x1="1087.5" y1="449.3" x2="1098" y2="449.3"/>
<text class="t" x="1075.5" y="456.7" text-anchor="end">-1</text>
<line class="k" x1="1098" y1="427.7" x2="1107" y2="427.7"/>
<line class="k" x1="1098" y1="406.0" x2="1107" y2="406.0"/>
<line class="k" x1="1098" y1="384.4" x2="1107" y2="384.4"/>
<line class="k" x1="1098" y1="362.7" x2="1107" y2="362.7"/>
<line class="k" x1="1087.5" y1="341.1" x2="1098" y2="341.1"/>
<text class="t" x="1075.5" y="348.4" text-anchor="end">0</text>
<line class="k" x1="1098" y1="319.4" x2="1107" y2="319.4"/>
<line class="k" x1="1098" y1="297.8" x2="1107" y2="297.8"/>
<line class="k" x1="1098" y1="276.1" x2="1107" y2="276.1"/>
<line class="k" x1="1098" y1="254.4" x2="1107" y2="254.4"/>
<line class="k" x1="1087.5" y1="232.8" x2="1098" y2="232.8"/>
<text class="t" x="1075.5" y="240.2" text-anchor="end">1</text>
<line class="k" x1="1098" y1="211.2" x2="1107" y2="211.2"/>
<line class="k" x1="1098" y1="189.5" x2="1107" y2="189.5"/>
<line class="k" x1="1098" y1="167.8" x2="1107" y2="167.8"/>
<line class="k" x1="1098" y1="146.2" x2="1107" y2="146.2"/>
<line class="k" x1="1087.5" y1="124.6" x2="1098" y2="124.6"/>
<text class="t" x="1075.5" y="132.0" text-anchor="end">2</text>
<line class="k" x1="1098" y1="102.9" x2="1107" y2="102.9"/>
<line class="k" x1="1098" y1="81.2" x2="1107" y2="81.2"/>
<line class="k" x1="1098" y1="59.6" x2="1107" y2="59.6"/>
<line class="k" x1="1098" y1="37.9" x2="1107" y2="37.9"/>
<line class="k" x1="1087.5" y1="16.3" x2="1098" y2="16.3"/>
<text class="t" x="1075.5" y="23.7" text-anchor="end">3</text>
<text class="t" x="1105.1" y="693.5" text-anchor="middle">G</text>
<text class="t" x="1366.6" y="693.5" text-anchor="middle">F</text>
<text class="t" x="1548.5" y="693.5" text-anchor="middle">Q</text>
<text class="t" x="1818.2" y="693.5" text-anchor="middle">Z</text>
<text class="t" x="1992.2" y="693.5" text-anchor="middle">G</text>
<text class="t2" transform="translate(1047.9,337.4) rotate(-90)" text-anchor="middle">Energy (eV)</text>
<text class="pl" x="1135.2" y="71.2">(b)</text>
<text class="eg" style="font-size:33.0px" x="1183.3" y="318">E<tspan style="font-size:21.4px" dy="4.5">g</tspan><tspan dy="-4.5">=2.08 eV</tspan></text><clipPath id="ccc"><rect x="569.7" y="800.6" width="893.3" height="641.8000000000001"/></clipPath>
<g clip-path="url(#ccc)">
<polyline class="bc" points="571.0,976.4 675.0,986.2 780.0,998.9 883.0,1013.8 1016.0,1013.8 1121.0,998.9 1225.0,986.2 1330.0,976.4 1462.0,976.4"/>
<polyline class="bc" points="571.0,983.9 675.0,986.9 780.0,994.4 883.0,995.9 1016.0,995.9 1121.0,994.4 1225.0,986.9 1330.0,983.9 1462.0,983.9"/>
<polyline class="bc" points="571.0,985.4 675.0,987.7 780.0,986.2 883.0,979.1 1016.0,979.1 1121.0,986.2 1225.0,987.7 1330.0,985.4 1462.0,985.4"/>
<polyline class="bc" points="571.0,988.4 675.0,986.2 780.0,983.9 883.0,979.1 1016.0,979.1 1121.0,983.9 1225.0,986.2 1330.0,988.4 1462.0,988.4"/>
<polyline class="bc" points="571.0,990.6 675.0,992.1 780.0,995.1 883.0,999.2 1016.0,999.2 1121.0,995.1 1225.0,992.1 1330.0,990.6 1462.0,990.6"/>
<polyline class="bc" points="571.0,993.6 675.0,996.6 780.0,1003.3 883.0,1013.8 1016.0,1013.8 1121.0,1003.3 1225.0,996.6 1330.0,993.6 1462.0,993.6"/>
<polyline class="bc" points="571.0,1004.8 675.0,1003.3 780.0,1000.4 883.0,995.9 1016.0,995.9 1121.0,1000.4 1225.0,1003.3 1330.0,1004.8 1462.0,1004.8"/>
<polyline class="bc" points="571.0,1007.1 675.0,1007.8 780.0,1008.6 883.0,1013.8 1016.0,1013.8 1121.0,1008.6 1225.0,1007.8 1330.0,1007.1 1462.0,1007.1"/>
<polyline class="bc" points="571.0,1039.2 675.0,1034.7 780.0,1027.3 883.0,1021.3 1016.0,1021.3 1121.0,1027.3 1225.0,1034.7 1330.0,1039.2 1462.0,1039.2"/>
<polyline class="bc" points="571.0,1042.2 675.0,1037.7 780.0,1028.8 883.0,1021.3 1016.0,1021.3 1121.0,1028.8 1225.0,1037.7 1330.0,1042.2 1462.0,1042.2"/>
<polyline class="bc" points="571.0,1044.5 675.0,1045.2 780.0,1046.7 883.0,1045.9 1016.0,1045.9 1121.0,1046.7 1225.0,1045.2 1330.0,1044.5 1462.0,1044.5"/>
<polyline class="bc" points="571.0,1044.5 675.0,1046.0 780.0,1048.2 883.0,1049.7 1016.0,1049.7 1121.0,1048.2 1225.0,1046.0 1330.0,1044.5 1462.0,1044.5"/>
<polyline class="bc" points="571.0,1064.6 675.0,1060.1 780.0,1052.7 883.0,1041.5 1016.0,1041.5 1121.0,1052.7 1225.0,1060.1 1330.0,1064.6 1462.0,1064.6"/>
<polyline class="bc" points="571.0,1064.6 675.0,1063.1 780.0,1055.7 883.0,1055.7 1016.0,1055.7 1121.0,1055.7 1225.0,1063.1 1330.0,1064.6 1462.0,1064.6"/>
<polyline class="bc" points="571.0,1109.5 675.0,1103.5 780.0,1094.5 883.0,1082.6 1016.0,1082.6 1121.0,1094.5 1225.0,1103.5 1330.0,1109.5 1462.0,1109.5"/>
<polyline class="bc" points="571.0,1111.0 675.0,1107.2 780.0,1099.8 883.0,1085.6 1016.0,1085.6 1121.0,1099.8 1225.0,1107.2 1330.0,1111.0 1462.0,1111.0"/>
<polyline class="bc" points="571.0,1114.0 675.0,1112.5 780.0,1109.5 883.0,1106.5 1016.0,1106.5 1121.0,1109.5 1225.0,1112.5 1330.0,1114.0 1462.0,1114.0"/>
<polyline class="bc" points="571.0,1116.3 675.0,1115.5 780.0,1117.0 883.0,1117.0 1016.0,1117.0 1121.0,1117.0 1225.0,1115.5 1330.0,1116.3 1462.0,1116.3"/>
<polyline class="bc" points="571.0,1116.3 675.0,1118.5 780.0,1124.4 883.0,1125.9 1016.0,1125.9 1121.0,1124.4 1225.0,1118.5 1330.0,1116.3 1462.0,1116.3"/>
<polyline class="bc" points="571.0,1146.4 675.0,1142.0 780.0,1124.7 883.0,1125.8 1016.0,1125.8 1121.0,1124.7 1225.0,1141.4 1330.0,1146.4 1462.0,1146.4"/>
<polyline class="bc" points="571.0,1151.5 675.0,1149.8 780.0,1132.5 883.0,1128.6 1016.0,1128.6 1121.0,1133.6 1225.0,1149.8 1330.0,1151.5 1462.0,1151.5"/>
<polyline class="bc" points="571.0,1153.7 675.0,1155.4 780.0,1146.4 883.0,1139.8 1016.0,1139.8 1121.0,1146.4 1225.0,1155.4 1330.0,1153.7 1462.0,1153.7"/>
<polyline class="bc" points="571.0,1155.9 675.0,1157.6 780.0,1154.3 883.0,1149.2 1016.0,1149.2 1121.0,1154.8 1225.0,1157.0 1330.0,1155.9 1462.0,1155.9"/>
<polyline class="bc" points="571.0,1158.7 675.0,1157.6 780.0,1161.0 883.0,1154.3 1016.0,1154.3 1121.0,1157.0 1225.0,1164.9 1330.0,1158.7 1462.0,1158.7"/>
<polyline class="bc" points="571.0,1167.1 675.0,1165.4 780.0,1161.0 883.0,1157.0 1016.0,1157.0 1121.0,1161.5 1225.0,1170.4 1330.0,1167.1 1462.0,1167.1"/>
<polyline class="bc" points="571.0,1200.0 675.0,1171.0 780.0,1169.9 883.0,1164.9 1016.0,1164.9 1121.0,1161.5 1225.0,1170.4 1330.0,1185.5 1462.0,1185.5"/>
<polyline class="bc" points="571.0,1204.5 675.0,1179.9 780.0,1176.0 883.0,1172.1 1016.0,1172.1 1121.0,1169.3 1225.0,1178.8 1330.0,1200.0 1462.0,1200.0"/>
<polyline class="bc" points="571.0,1207.2 675.0,1179.9 780.0,1189.4 883.0,1184.4 1016.0,1184.4 1121.0,1171.0 1225.0,1187.2 1330.0,1204.5 1462.0,1204.5"/>
<polyline class="bc" points="571.0,1210.0 675.0,1188.3 780.0,1195.0 883.0,1191.6 1016.0,1191.6 1121.0,1189.4 1225.0,1193.9 1330.0,1207.2 1462.0,1207.2"/>
<polyline class="bc" points="571.0,1210.0 675.0,1193.9 780.0,1195.0 883.0,1197.8 1016.0,1197.8 1121.0,1193.9 1225.0,1200.6 1330.0,1210.0 1462.0,1210.0"/>
<polyline class="bc" points="571.0,1210.0 675.0,1193.9 780.0,1205.0 883.0,1204.5 1016.0,1204.5 1121.0,1196.1 1225.0,1202.8 1330.0,1210.0 1462.0,1210.0"/>
<polyline class="bc" points="571.0,1212.3 675.0,1200.0 780.0,1209.5 883.0,1214.5 1016.0,1214.5 1121.0,1205.0 1225.0,1207.2 1330.0,1210.0 1462.0,1210.0"/>
<polyline class="bc" points="571.0,1212.3 675.0,1204.5 780.0,1213.9 883.0,1214.5 1016.0,1214.5 1121.0,1205.0 1225.0,1207.2 1330.0,1212.3 1462.0,1212.3"/>
<polyline class="bc" points="571.0,1216.2 675.0,1207.2 780.0,1213.9 883.0,1214.5 1016.0,1214.5 1121.0,1209.5 1225.0,1209.5 1330.0,1212.3 1462.0,1212.3"/>
<polyline class="bc" points="571.0,1218.4 675.0,1207.2 780.0,1218.4 883.0,1216.2 1016.0,1216.2 1121.0,1214.5 1225.0,1215.1 1330.0,1216.2 1462.0,1216.2"/>
<polyline class="bc" points="571.0,1218.4 675.0,1210.6 780.0,1221.7 883.0,1216.2 1016.0,1216.2 1121.0,1216.2 1225.0,1217.3 1330.0,1218.4 1462.0,1218.4"/>
<polyline class="bc" points="571.0,1218.4 675.0,1215.1 780.0,1225.7 883.0,1219.0 1016.0,1219.0 1121.0,1219.5 1225.0,1219.5 1330.0,1218.4 1462.0,1218.4"/>
<polyline class="bc" points="571.0,1220.1 675.0,1217.3 780.0,1229.6 883.0,1222.3 1016.0,1222.3 1121.0,1222.3 1225.0,1224.0 1330.0,1218.4 1462.0,1218.4"/>
<polyline class="bc" points="571.0,1220.1 675.0,1217.3 780.0,1229.6 883.0,1225.1 1016.0,1225.1 1121.0,1222.3 1225.0,1224.0 1330.0,1220.1 1462.0,1220.1"/>
<polyline class="bc" points="571.0,1229.0 675.0,1220.1 780.0,1232.9 883.0,1230.1 1016.0,1230.1 1121.0,1225.7 1225.0,1227.9 1330.0,1229.0 1462.0,1229.0"/>
<polyline class="bc" points="571.0,1231.2 675.0,1224.0 780.0,1237.4 883.0,1231.8 1016.0,1231.8 1121.0,1229.6 1225.0,1230.7 1330.0,1231.2 1462.0,1231.2"/>
<polyline class="bc" points="571.0,1233.5 675.0,1227.9 780.0,1238.5 883.0,1235.7 1016.0,1235.7 1121.0,1232.9 1225.0,1232.9 1330.0,1233.5 1462.0,1233.5"/>
<polyline class="bc" points="571.0,1236.3 675.0,1227.9 780.0,1240.7 883.0,1238.0 1016.0,1238.0 1121.0,1236.3 1225.0,1236.3 1330.0,1236.3 1462.0,1236.3"/>
<polyline class="bc" points="571.0,1238.0 675.0,1231.2 780.0,1240.7 883.0,1238.0 1016.0,1238.0 1121.0,1238.5 1225.0,1238.5 1330.0,1238.0 1462.0,1238.0"/>
<polyline class="bc" points="571.0,1240.7 675.0,1234.0 780.0,1245.2 883.0,1238.0 1016.0,1238.0 1121.0,1238.5 1225.0,1238.5 1330.0,1240.7 1462.0,1240.7"/>
<polyline class="bc" points="571.0,1240.7 675.0,1238.0 780.0,1249.1 883.0,1240.2 1016.0,1240.2 1121.0,1243.5 1225.0,1240.7 1330.0,1240.7 1462.0,1240.7"/>
<polyline class="bc" points="571.0,1242.4 675.0,1238.0 780.0,1253.0 883.0,1240.2 1016.0,1240.2 1121.0,1246.3 1225.0,1244.1 1330.0,1242.4 1462.0,1242.4"/>
<polyline class="bc" points="571.0,1242.4 675.0,1240.2 780.0,1253.0 883.0,1241.8 1016.0,1241.8 1121.0,1249.1 1225.0,1247.4 1330.0,1242.4 1462.0,1242.4"/>
<polyline class="bc" points="571.0,1242.4 675.0,1244.1 780.0,1256.3 883.0,1245.7 1016.0,1245.7 1121.0,1253.0 1225.0,1251.9 1330.0,1242.4 1462.0,1242.4"/>
<polyline class="bc" points="571.0,1244.6 675.0,1244.1 780.0,1260.8 883.0,1249.1 1016.0,1249.1 1121.0,1257.4 1225.0,1256.3 1330.0,1244.6 1462.0,1244.6"/>
<polyline class="bc" points="571.0,1244.6 675.0,1246.3 780.0,1264.2 883.0,1253.0 1016.0,1253.0 1121.0,1260.8 1225.0,1259.7 1330.0,1244.6 1462.0,1244.6"/>
<polyline class="bc" points="571.0,1250.8 675.0,1251.3 780.0,1265.3 883.0,1257.4 1016.0,1257.4 1121.0,1260.8 1225.0,1259.7 1330.0,1250.8 1462.0,1250.8"/>
<polyline class="bc" points="571.0,1250.8 675.0,1255.2 780.0,1265.3 883.0,1261.4 1016.0,1261.4 1121.0,1267.5 1225.0,1263.0 1330.0,1250.8 1462.0,1250.8"/>
<polyline class="bc" points="571.0,1253.0 675.0,1255.2 780.0,1267.5 883.0,1264.1 1016.0,1264.1 1121.0,1269.7 1225.0,1266.4 1330.0,1253.0 1462.0,1253.0"/>
<polyline class="bc" points="571.0,1259.1 675.0,1259.7 780.0,1273.1 883.0,1270.8 1016.0,1270.8 1121.0,1273.1 1225.0,1272.5 1330.0,1259.1 1462.0,1259.1"/>
<polyline class="bc" points="571.0,1273.1 675.0,1275.3 780.0,1276.5 883.0,1274.7 1016.0,1274.7 1121.0,1275.9 1225.0,1276.5 1330.0,1273.1 1462.0,1273.1"/>
<polyline class="bc" points="571.0,1281.0 675.0,1279.8 780.0,1279.8 883.0,1278.6 1016.0,1278.6 1121.0,1280.9 1225.0,1279.2 1330.0,1281.0 1462.0,1281.0"/>
<polyline class="bc" points="571.0,1283.9 675.0,1280.6 780.0,1282.2 883.0,1282.8 1016.0,1282.8 1121.0,1282.2 1225.0,1281.7 1330.0,1283.9 1462.0,1283.9"/>
<polyline class="bc" points="571.0,1286.7 675.0,1282.8 780.0,1285.0 883.0,1285.6 1016.0,1285.6 1121.0,1285.0 1225.0,1284.5 1330.0,1286.7 1462.0,1286.7"/>
<polyline class="bc" points="571.0,1291.2 675.0,1286.1 780.0,1290.0 883.0,1287.8 1016.0,1287.8 1121.0,1288.4 1225.0,1288.4 1330.0,1291.2 1462.0,1291.2"/>
<polyline class="bc" points="571.0,1293.4 675.0,1293.4 780.0,1292.3 883.0,1290.6 1016.0,1290.6 1121.0,1292.3 1225.0,1292.3 1330.0,1293.4 1462.0,1293.4"/>
<polyline class="bc" points="571.0,1293.4 675.0,1295.6 780.0,1295.1 883.0,1291.2 1016.0,1291.2 1121.0,1295.6 1225.0,1295.1 1330.0,1293.4 1462.0,1293.4"/>
<polyline class="bc" points="571.0,1295.6 675.0,1297.8 780.0,1298.4 883.0,1297.8 1016.0,1297.8 1121.0,1299.5 1225.0,1297.8 1330.0,1295.6 1462.0,1295.6"/>
<polyline class="bc" points="571.0,1295.6 675.0,1300.1 780.0,1298.4 883.0,1300.6 1016.0,1300.6 1121.0,1301.8 1225.0,1301.8 1330.0,1295.6 1462.0,1295.6"/>
<polyline class="bc" points="571.0,1296.7 675.0,1302.3 780.0,1300.6 883.0,1302.3 1016.0,1302.3 1121.0,1304.5 1225.0,1304.0 1330.0,1296.7 1462.0,1296.7"/>
<polyline class="bc" points="571.0,1299.0 675.0,1305.7 780.0,1303.4 883.0,1305.1 1016.0,1305.1 1121.0,1307.9 1225.0,1307.3 1330.0,1299.0 1462.0,1299.0"/>
<polyline class="bc" points="571.0,1301.8 675.0,1309.0 780.0,1306.8 883.0,1309.6 1016.0,1309.6 1121.0,1310.7 1225.0,1310.1 1330.0,1301.8 1462.0,1301.8"/>
<polyline class="bc" points="571.0,1304.0 675.0,1311.2 780.0,1309.6 883.0,1311.2 1016.0,1311.2 1121.0,1314.0 1225.0,1310.1 1330.0,1304.0 1462.0,1304.0"/>
<polyline class="bc" points="571.0,1306.8 675.0,1313.5 780.0,1309.6 883.0,1314.6 1016.0,1314.6 1121.0,1316.8 1225.0,1313.5 1330.0,1306.8 1462.0,1306.8"/>
<polyline class="bc" points="571.0,1309.0 675.0,1316.8 780.0,1312.4 883.0,1316.8 1016.0,1316.8 1121.0,1319.6 1225.0,1316.8 1330.0,1309.0 1462.0,1309.0"/>
<polyline class="bc" points="571.0,1311.2 675.0,1316.8 780.0,1316.8 883.0,1318.5 1016.0,1318.5 1121.0,1319.6 1225.0,1319.6 1330.0,1311.2 1462.0,1311.2"/>
<polyline class="bc" points="571.0,1311.2 675.0,1319.0 780.0,1321.3 883.0,1320.2 1016.0,1320.2 1121.0,1322.4 1225.0,1322.4 1330.0,1311.2 1462.0,1311.2"/>
<polyline class="bc" points="571.0,1313.5 675.0,1322.4 780.0,1323.5 883.0,1321.8 1016.0,1321.8 1121.0,1329.1 1225.0,1325.2 1330.0,1313.5 1462.0,1313.5"/>
<polyline class="bc" points="571.0,1313.5 675.0,1324.6 780.0,1325.7 883.0,1324.1 1016.0,1324.1 1121.0,1332.4 1225.0,1329.1 1330.0,1313.5 1462.0,1313.5"/>
<polyline class="bc" points="571.0,1315.7 675.0,1326.9 780.0,1325.7 883.0,1325.7 1016.0,1325.7 1121.0,1335.8 1225.0,1332.4 1330.0,1315.7 1462.0,1315.7"/>
<polyline class="bc" points="571.0,1320.2 675.0,1329.1 780.0,1329.1 883.0,1328.0 1016.0,1328.0 1121.0,1338.6 1225.0,1335.8 1330.0,1320.2 1462.0,1320.2"/>
<polyline class="bc" points="571.0,1320.2 675.0,1331.3 780.0,1331.3 883.0,1332.4 1016.0,1332.4 1121.0,1341.4 1225.0,1339.1 1330.0,1320.2 1462.0,1320.2"/>
<polyline class="bc" points="571.0,1322.9 675.0,1335.8 780.0,1334.7 883.0,1334.7 1016.0,1334.7 1121.0,1344.1 1225.0,1339.1 1330.0,1322.9 1462.0,1322.9"/>
<polyline class="bc" points="571.0,1324.1 675.0,1340.2 780.0,1338.0 883.0,1336.3 1016.0,1336.3 1121.0,1348.6 1225.0,1342.5 1330.0,1324.1 1462.0,1324.1"/>
<polyline class="bc" points="571.0,1324.1 675.0,1342.5 780.0,1338.0 883.0,1338.6 1016.0,1338.6 1121.0,1352.5 1225.0,1345.8 1330.0,1324.1 1462.0,1324.1"/>
<polyline class="bc" points="571.0,1328.0 675.0,1344.7 780.0,1340.8 883.0,1340.8 1016.0,1340.8 1121.0,1358.1 1225.0,1349.2 1330.0,1328.0 1462.0,1328.0"/>
<polyline class="bc" points="571.0,1331.3 675.0,1346.9 780.0,1343.6 883.0,1344.1 1016.0,1344.1 1121.0,1360.3 1225.0,1353.6 1330.0,1331.3 1462.0,1331.3"/>
<polyline class="bc" points="571.0,1333.5 675.0,1346.9 780.0,1346.9 883.0,1344.1 1016.0,1344.1 1121.0,1360.3 1225.0,1358.1 1330.0,1333.5 1462.0,1333.5"/>
<polyline class="bc" points="571.0,1337.5 675.0,1353.1 780.0,1351.4 883.0,1346.9 1016.0,1346.9 1121.0,1365.3 1225.0,1364.8 1330.0,1337.5 1462.0,1337.5"/>
<polyline class="bc" points="571.0,1337.5 675.0,1358.6 780.0,1358.1 883.0,1357.0 1016.0,1357.0 1121.0,1368.1 1225.0,1368.1 1330.0,1337.5 1462.0,1337.5"/>
<polyline class="bc" points="571.0,1339.7 675.0,1368.1 780.0,1358.1 883.0,1359.2 1016.0,1359.2 1121.0,1372.6 1225.0,1372.6 1330.0,1339.7 1462.0,1339.7"/>
<polyline class="bc" points="571.0,1339.7 675.0,1370.4 780.0,1365.9 883.0,1366.5 1016.0,1366.5 1121.0,1375.9 1225.0,1375.9 1330.0,1339.7 1462.0,1339.7"/>
<polyline class="bc" points="571.0,1342.5 675.0,1374.8 780.0,1372.6 883.0,1366.5 1016.0,1366.5 1121.0,1381.5 1225.0,1375.9 1330.0,1342.5 1462.0,1342.5"/>
<polyline class="bc" points="571.0,1344.7 675.0,1381.5 780.0,1380.4 883.0,1367.6 1016.0,1367.6 1121.0,1384.9 1225.0,1381.0 1330.0,1344.7 1462.0,1344.7"/>
<polyline class="bc" points="571.0,1358.6 675.0,1387.1 780.0,1387.1 883.0,1373.7 1016.0,1373.7 1121.0,1388.2 1225.0,1384.9 1330.0,1358.6 1462.0,1358.6"/>
<polyline class="bc" points="571.0,1360.3 675.0,1388.8 780.0,1387.1 883.0,1373.7 1016.0,1373.7 1121.0,1391.6 1225.0,1388.8 1330.0,1360.3 1462.0,1360.3"/>
<polyline class="bc" points="571.0,1369.2 675.0,1391.6 780.0,1390.4 883.0,1374.8 1016.0,1374.8 1121.0,1394.9 1225.0,1392.7 1330.0,1369.2 1462.0,1369.2"/>
<polyline class="bc" points="571.0,1378.2 675.0,1399.9 780.0,1394.9 883.0,1384.3 1016.0,1384.3 1121.0,1397.7 1225.0,1396.0 1330.0,1378.2 1462.0,1378.2"/>
<polyline class="bc" points="571.0,1378.2 675.0,1401.6 780.0,1397.1 883.0,1389.9 1016.0,1389.9 1121.0,1400.5 1225.0,1400.5 1330.0,1378.2 1462.0,1378.2"/>
<polyline class="bc" points="571.0,1380.4 675.0,1401.6 780.0,1400.5 883.0,1393.8 1016.0,1393.8 1121.0,1400.5 1225.0,1403.8 1330.0,1380.4 1462.0,1380.4"/>
<polyline class="bc" points="571.0,1387.1 675.0,1407.2 780.0,1403.8 883.0,1400.5 1016.0,1400.5 1121.0,1403.8 1225.0,1407.2 1330.0,1387.1 1462.0,1387.1"/>
<polyline class="bc" points="571.0,1399.9 675.0,1409.4 780.0,1403.8 883.0,1406.1 1016.0,1406.1 1121.0,1407.2 1225.0,1410.5 1330.0,1399.9 1462.0,1399.9"/>
<polyline class="bc" points="571.0,1402.2 675.0,1411.6 780.0,1407.2 883.0,1410.5 1016.0,1410.5 1121.0,1410.0 1225.0,1410.5 1330.0,1402.2 1462.0,1402.2"/>
<polyline class="bc" points="571.0,1409.4 675.0,1413.9 780.0,1412.8 883.0,1415.5 1016.0,1415.5 1121.0,1413.3 1225.0,1413.9 1330.0,1409.4 1462.0,1409.4"/>
<polyline class="bc" points="571.0,1417.2 675.0,1417.2 780.0,1415.0 883.0,1417.8 1016.0,1417.8 1121.0,1416.1 1225.0,1417.2 1330.0,1417.2 1462.0,1417.2"/>
<polyline class="bc" points="571.0,1421.1 675.0,1419.4 780.0,1418.3 883.0,1420.6 1016.0,1420.6 1121.0,1419.4 1225.0,1420.6 1330.0,1421.1 1462.0,1421.1"/>
<polyline class="bc" points="571.0,1428.4 675.0,1422.8 780.0,1418.3 883.0,1427.3 1016.0,1427.3 1121.0,1422.8 1225.0,1423.9 1330.0,1428.4 1462.0,1428.4"/>
<polyline class="bc" points="571.0,1430.0 675.0,1426.1 780.0,1422.8 883.0,1431.7 1016.0,1431.7 1121.0,1427.3 1225.0,1427.3 1330.0,1430.0 1462.0,1430.0"/>
<polyline class="bc" points="571.0,1430.0 675.0,1429.5 780.0,1426.1 883.0,1433.9 1016.0,1433.9 1121.0,1430.6 1225.0,1430.6 1330.0,1430.0 1462.0,1430.0"/>
<polyline class="bc" points="571.0,1432.3 675.0,1433.9 780.0,1429.5 883.0,1435.6 1016.0,1435.6 1121.0,1433.9 1225.0,1433.9 1330.0,1432.3 1462.0,1432.3"/>
<polyline class="bc" points="571.0,1434.5 675.0,1437.3 780.0,1433.9 883.0,1438.4 1016.0,1438.4 1121.0,1436.7 1225.0,1437.3 1330.0,1434.5 1462.0,1434.5"/>
<polyline class="bc" points="571.0,1434.5 675.0,1439.5 780.0,1436.2 883.0,1440.6 1016.0,1440.6 1121.0,1439.5 1225.0,1439.5 1330.0,1434.5 1462.0,1434.5"/>
<line class="r" style="stroke-dasharray:9.3 14.23" x1="840" y1="796.47" x2="838" y2="1442.4"/>
<line class="r" style="stroke-dasharray:9.3 14.23" x1="1017.3" y1="796.47" x2="1015.5" y2="1442.4"/>
<line class="r" style="stroke-dasharray:9.3 14.23" x1="1284.5" y1="796.47" x2="1282" y2="1442.4"/>
<line class="f" style="stroke-dasharray:18.1 6.20" x1="571.2" y1="1122" x2="1463" y2="1122.2"/>
</g>
<line class="g" x1="571.3000000000001" y1="800.6" x2="571.3000000000001" y2="1442.4"/>
<line class="g" x1="1461.7" y1="800.6" x2="1461.7" y2="1442.4"/>
<line class="k" x1="569.7" y1="800.6" x2="1464" y2="800.6"/>
<line class="k" x1="569.7" y1="1442.4" x2="1464" y2="1442.4"/>
<line class="k" x1="569.7" y1="799.6" x2="569.7" y2="1443.4"/>
<line class="k" x1="1463" y1="799.6" x2="1463" y2="1443.4"/>
<line class="k" x1="559.2" y1="1442.4" x2="569.7" y2="1442.4"/>
<text class="t" x="547.5" y="1449.8" text-anchor="end">-3</text>
<line class="k" x1="569.7" y1="1421.0" x2="578.7" y2="1421.0"/>
<line class="k" x1="569.7" y1="1399.6" x2="578.7" y2="1399.6"/>
<line class="k" x1="569.7" y1="1378.2" x2="578.7" y2="1378.2"/>
<line class="k" x1="569.7" y1="1356.8" x2="578.7" y2="1356.8"/>
<line class="k" x1="559.2" y1="1335.4" x2="569.7" y2="1335.4"/>
<text class="t" x="547.5" y="1342.8" text-anchor="end">-2</text>
<line class="k" x1="569.7" y1="1314.0" x2="578.7" y2="1314.0"/>
<line class="k" x1="569.7" y1="1292.7" x2="578.7" y2="1292.7"/>
<line class="k" x1="569.7" y1="1271.3" x2="578.7" y2="1271.3"/>
<line class="k" x1="569.7" y1="1249.9" x2="578.7" y2="1249.9"/>
<line class="k" x1="559.2" y1="1228.5" x2="569.7" y2="1228.5"/>
<text class="t" x="547.5" y="1235.9" text-anchor="end">-1</text>
<line class="k" x1="569.7" y1="1207.1" x2="578.7" y2="1207.1"/>
<line class="k" x1="569.7" y1="1185.7" x2="578.7" y2="1185.7"/>
<line class="k" x1="569.7" y1="1164.3" x2="578.7" y2="1164.3"/>
<line class="k" x1="569.7" y1="1142.9" x2="578.7" y2="1142.9"/>
<line class="k" x1="559.2" y1="1121.5" x2="569.7" y2="1121.5"/>
<text class="t" x="547.5" y="1128.9" text-anchor="end">0</text>
<line class="k" x1="569.7" y1="1100.1" x2="578.7" y2="1100.1"/>
<line class="k" x1="569.7" y1="1078.7" x2="578.7" y2="1078.7"/>
<line class="k" x1="569.7" y1="1057.3" x2="578.7" y2="1057.3"/>
<line class="k" x1="569.7" y1="1035.9" x2="578.7" y2="1035.9"/>
<line class="k" x1="559.2" y1="1014.5" x2="569.7" y2="1014.5"/>
<text class="t" x="547.5" y="1021.9" text-anchor="end">1</text>
<line class="k" x1="569.7" y1="993.1" x2="578.7" y2="993.1"/>
<line class="k" x1="569.7" y1="971.7" x2="578.7" y2="971.7"/>
<line class="k" x1="569.7" y1="950.3" x2="578.7" y2="950.3"/>
<line class="k" x1="569.7" y1="929.0" x2="578.7" y2="929.0"/>
<line class="k" x1="559.2" y1="907.6" x2="569.7" y2="907.6"/>
<text class="t" x="547.5" y="915.0" text-anchor="end">2</text>
<line class="k" x1="569.7" y1="886.2" x2="578.7" y2="886.2"/>
<line class="k" x1="569.7" y1="864.8" x2="578.7" y2="864.8"/>
<line class="k" x1="569.7" y1="843.4" x2="578.7" y2="843.4"/>
<line class="k" x1="569.7" y1="822.0" x2="578.7" y2="822.0"/>
<line class="k" x1="559.2" y1="800.6" x2="569.7" y2="800.6"/>
<text class="t" x="547.5" y="808.0" text-anchor="end">3</text>
<text class="t" x="576.9" y="1471" text-anchor="middle">G</text>
<text class="t" x="835.5" y="1471" text-anchor="middle">F</text>
<text class="t" x="1015" y="1471" text-anchor="middle">Q</text>
<text class="t" x="1282" y="1471" text-anchor="middle">Z</text>
<text class="t" x="1454" y="1471" text-anchor="middle">G</text>
<text class="t2" transform="translate(512.9,1120) rotate(-90)" text-anchor="middle">Energy (eV)</text>
<text class="pl" x="607" y="857.6">(c)</text>
<text class="eg" style="font-size:30px" x="651" y="1085.4">E<tspan style="font-size:19.5px" dy="4.1">g</tspan><tspan dy="-4.1">=</tspan><tspan x="777">eV</tspan></text>
<text class="eg" style="font-size:34.5px" transform="translate(696.3,1085.4) scale(0.915,1)">0.008</text>
</svg></body></html>
